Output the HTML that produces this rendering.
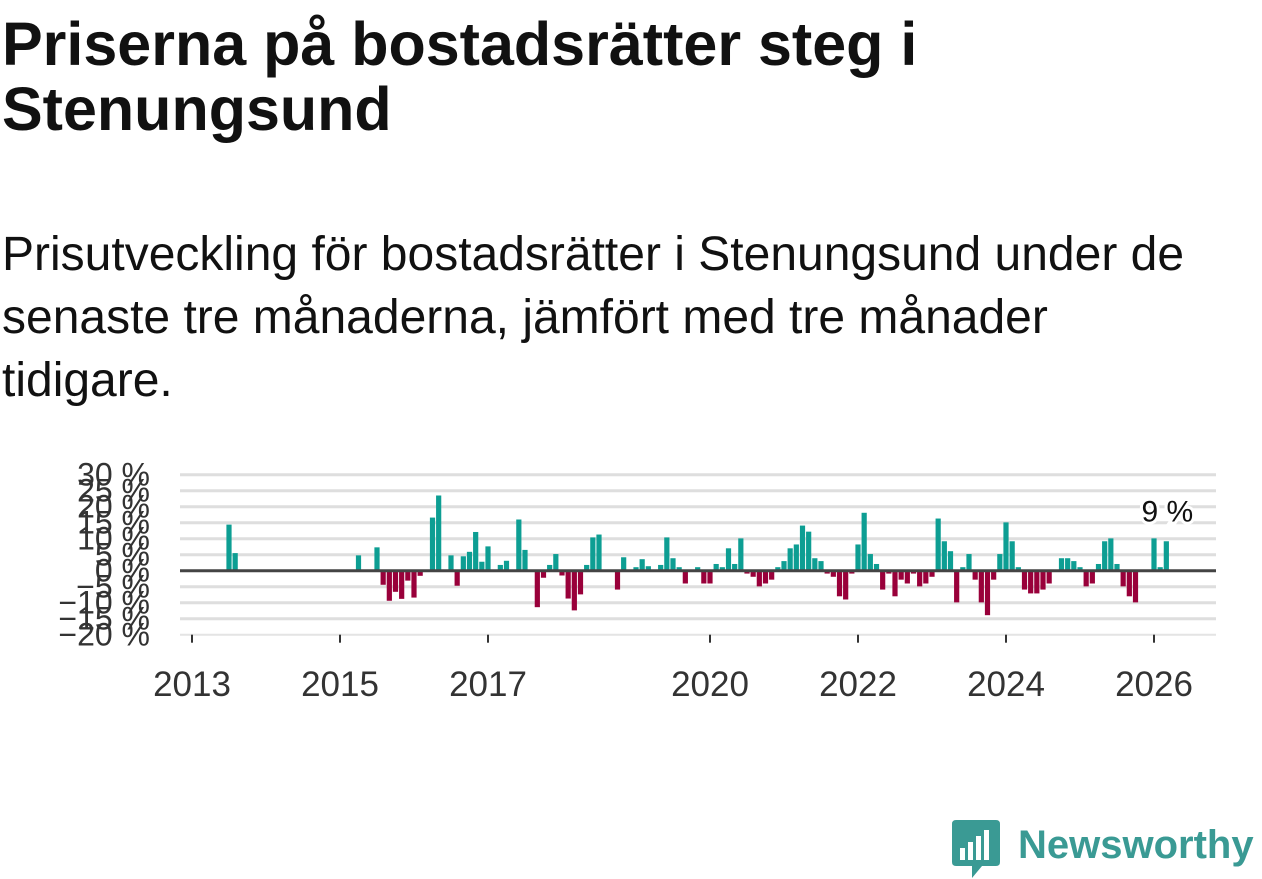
<!DOCTYPE html>
<html><head><meta charset="utf-8">
<style>
body{margin:0;width:1262px;height:879px;background:#fff;overflow:hidden;font-family:"Liberation Sans","DejaVu Sans",sans-serif;color:#111;position:relative}
h1{position:absolute;left:2px;top:12px;margin:0;font-size:61px;line-height:65px;font-weight:bold;color:#111;width:1000px}
p.sub{position:absolute;left:2px;top:223px;margin:0;font-size:48px;line-height:63px;color:#111;width:1212px}
svg{position:absolute;left:0;top:0}
</style></head><body>
<h1>Priserna på bostadsrätter steg i Stenungsund</h1>
<p class="sub">Prisutveckling för bostadsrätter i Stenungsund under de senaste tre månaderna, jämfört med tre månader tidigare.</p>
<svg id="chart" width="1262" height="879"></svg>
<div style="position:absolute;left:952px;top:820px;width:310px;height:59px">
<svg width="50" height="59" style="position:absolute;left:0;top:0">
<path d="M0 4 Q0 0 4 0 H44 Q48 0 48 4 V42 Q48 46 44 46 H30 L20 58 V46 H4 Q0 46 0 42 Z" fill="#3a9a94"/>
<rect x="8" y="28" width="5" height="12" fill="#fff"/><rect x="16" y="22" width="5" height="18" fill="#fff"/><rect x="24" y="16" width="5" height="24" fill="#fff"/><rect x="32" y="10" width="5" height="30" fill="#fff"/>
</svg>
<span style="position:absolute;left:66px;top:0;font-size:40px;font-weight:bold;color:#3a9a94;line-height:50px">Newsworthy</span>
</div>
<script>
const yTicks=[30,25,20,15,10,5,0,-5,-10,-15,-20];
const yTickLabels=["30 %","25 %","20 %","15 %","10 %","5 %","0 %","\u22125 %","\u221210 %","\u221215 %","\u221220 %"];
const xTickYears=[2013,2015,2017,2020,2022,2024,2026];
// month index since Jan 2013 and value (%)
const months=[6,7,27,30,31,32,33,34,35,36,37,39,40,42,43,44,45,46,47,48,50,51,53,54,56,57,58,59,60,61,62,63,64,65,66,69,70,72,73,74,76,77,78,79,80,82,83,84,85,86,87,88,89,90,91,92,93,94,95,96,97,98,99,100,101,102,103,104,105,106,107,108,109,110,111,112,113,114,115,116,117,118,119,120,121,122,123,124,125,126,127,128,129,130,131,132,133,134,135,136,137,138,139,141,142,143,144,145,146,147,148,149,150,151,152,153,156,157,158];
const values=[14.4,5.5,4.8,7.3,-4.4,-9.4,-6.6,-8.8,-3.1,-8.4,-1.6,16.6,23.5,4.8,-4.7,4.5,5.9,12.1,2.8,7.6,1.8,3.1,16,6.5,-11.4,-2.2,1.8,5.2,-1.5,-8.7,-12.4,-7.4,1.8,10.4,11.3,-5.9,4.2,1.1,3.6,1.4,1.8,10.4,3.9,1.1,-4,1.1,-4,-4,2.1,1.1,7,2.1,10.1,-0.9,-1.9,-4.9,-4,-2.8,1.1,3,7,8.2,14.1,12.2,3.9,3,-0.9,-1.9,-8,-9,-0.9,8.2,18.1,5.2,2.1,-5.9,-0.9,-8,-2.8,-4,-0.9,-4.9,-4,-1.9,16.3,9.2,6.1,-9.9,1.1,5.2,-2.8,-9.9,-13.9,-2.8,5.2,15.1,9.2,1.1,-5.9,-7.1,-7.1,-5.9,-4,3.9,3.9,3,1.1,-4.9,-4,2.1,9.2,10.1,2.1,-4.9,-8,-9.9,10.1,1.1,9.2];
const lastLabel="9 %";

const NS="http://www.w3.org/2000/svg";
const svg=document.getElementById('chart');
const y=v=>570.7-v*3.2;
const x=m=>192+m*74/12;
function mk(t,a){const e=document.createElementNS(NS,t);for(const k in a)e.setAttribute(k,a[k]);svg.appendChild(e);return e;}
yTicks.forEach((t,i)=>{
  if(t!==0&&t!==-20){const g=mk('line',{x1:180,x2:1216,y1:y(t),y2:y(t),stroke:'#dedede','stroke-width':3});
  
  }
  const tx=mk('text',{x:150,y:y(t)+11,'text-anchor':'end','font-size':32,fill:'#333'});
  tx.textContent=yTickLabels[i];
  
  
});
const base=mk('line',{x1:180,x2:1216,y1:y(-20),y2:y(-20),stroke:'#e4e4e4','stroke-width':2});


xTickYears.forEach(yr=>{
  const px=x((yr-2013)*12);
  const tk=mk('line',{x1:px,x2:px,y1:y(-20),y2:y(-20)+8,stroke:'#333','stroke-width':2});
  
  
  const tx=mk('text',{x:px,y:696,'text-anchor':'middle','font-size':35,fill:'#333'});
  tx.textContent=yr;
  
  
});
months.forEach((m,i)=>{
  const v=values[i];const cx=x(m);
  const top=v>=0?y(v):y(0);const h=Math.abs(y(v)-y(0));
  const r=mk('rect',{x:cx-2.6,y:top,width:5.2,height:h,fill:v>=0?'#0d9e93':'#99003a'});
  
  
});
const zl=mk('line',{x1:180,x2:1216,y1:y(0),y2:y(0),stroke:'#444','stroke-width':3});


const li=months.length-1;
const lb=mk('text',{x:x(months[li])+1,y:y(values[li])-20,'text-anchor':'middle','font-size':30,fill:'#111',stroke:'#fff','stroke-width':6,'paint-order':'stroke'});
lb.textContent=lastLabel;


</script>
</body></html>
